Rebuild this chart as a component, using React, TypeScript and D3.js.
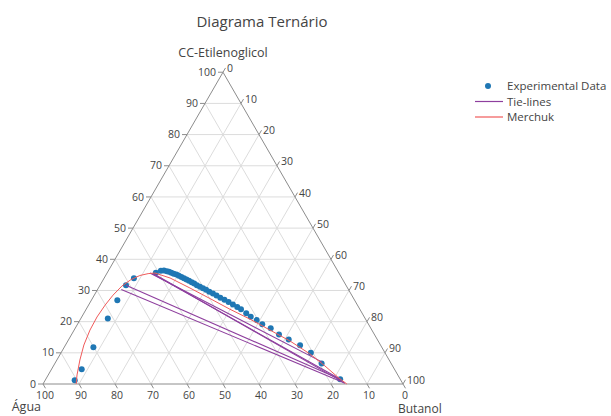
import * as d3 from 'd3';

// Etilenoglicol (a) and Butanol (c) mass %, Água = 100 - a - c
const EXP_A = [1.2, 4.7, 11.8, 21.0, 26.9, 31.7, 33.9, 35.7, 36.3, 36.4, 36.2, 36.0, 35.7, 35.4, 35.1, 34.7,
  34.3, 33.9, 33.5, 33.1, 32.6, 32.2, 31.7, 31.2, 30.7, 30.2, 29.6, 29.0, 28.4, 27.7, 27.0, 26.3, 25.5, 24.7,
  24.0, 22.7, 21.6, 20.5, 19.2, 17.9, 15.9, 14.3, 12.4, 10.0, 6.6, 1.5];
const EXP_C = [8.2, 8.4, 8.1, 7.5, 7.2, 7.2, 8.3, 13.5, 14.6, 15.4, 16.3, 17.0, 17.8, 18.6, 19.5, 20.4,
  21.3, 22.2, 23.1, 24.0, 25.0, 25.9, 26.9, 28.0, 29.1, 30.2, 31.4, 32.7, 34.0, 35.4, 36.9, 38.4, 40.0, 41.6,
  43.0, 45.1, 46.9, 49.1, 51.3, 54.3, 57.6, 61.1, 65.2, 69.4, 74.1, 81.8];

const TIE_A1 = [31.7, 30.3, 35.6, 35.4, 35.3];
const TIE_C1 = [7.2, 6.6, 11.9, 12.6, 13.2];
const TIE_A2 = [1.5, 0.3, 7.1, 1.6, 0.2];
const TIE_C2 = [81.8, 83.6, 73.9, 81.7, 83.8];

const MERCHUK_A = [0, 2.9, 7.7, 12.5, 17.3, 21.5, 25.3, 28.5, 31.4, 33.5, 34.8, 35.4, 35.6, 34.0, 30.8, 27.4,
  24.0, 20.8, 17.3, 13.8, 9.6, 5.8, 2.2, 0];
const MERCHUK_C = [9.2, 8.0, 6.4, 5.1, 4.4, 4.25, 4.6, 5.2, 6.2, 7.7, 9.5, 11.5, 13.3, 18.3, 25.4, 32.7,
  39.9, 47.1, 54.4, 61.7, 69.4, 75.4, 80.8, 84.4];

const TICKS = [0, 10, 20, 30, 40, 50, 60, 70, 80, 90, 100];
const LEGEND = ['Experimental Data', 'Tie-lines', 'Merchuk'];

const LEFT = 43;
const RIGHT = 403;
const BOTTOM = 384;
const APEX_Y = BOTTOM - (RIGHT - LEFT) * Math.sqrt(3) / 2;
const FONT = '"Open Sans", Arial, sans-serif';
const TEXT = '#444';
const BLUE = '#1f77b4';
const PURPLE = '#8e3f9e';
const RED = '#f05a5a';

const xScale = d3.scaleLinear().domain([0, 100]).range([LEFT, RIGHT]);
const yScale = d3.scaleLinear().domain([0, 100]).range([BOTTOM, APEX_Y]);
const proj = (a: number, c: number): [number, number] => [xScale(c + a / 2), yScale(a)];

export default function App() {
  const line = d3.line<[number, number]>();
  const merchuk = line(MERCHUK_A.map((a, i) => proj(a, MERCHUK_C[i]))) || '';

  const grid: string[] = [];
  TICKS.slice(1, -1).forEach((k) => {
    grid.push(line([proj(k, 0), proj(k, 100 - k)]) || '');
    grid.push(line([proj(100 - k, 0), proj(0, 100 - k)]) || '');
    grid.push(line([proj(0, k), proj(100 - k, k)]) || '');
  });
  const edge = line([proj(0, 0), proj(100, 0), proj(0, 100), proj(0, 0)]) + 'Z';

  return (
    <svg width={611} height={416} style={{ position: 'absolute', left: 0, top: 0, background: '#fff' }}
      fontFamily={FONT}>
      <text x={262} y={27} textAnchor="middle" fontSize={15} fill={TEXT}>Diagrama Ternário</text>

      {grid.map((d, i) => <path key={i} d={d} stroke="#dcdcdc" strokeWidth={1} fill="none" />)}
      <path d={edge} stroke="#8c8c8c" strokeWidth={1} fill="none" />

      {/* a axis (left) */}
      {TICKS.map((t) => {
        const [x, y] = proj(t, 0);
        return (
          <g key={'a' + t}>
            <line x1={x} y1={y} x2={x - 5} y2={y} stroke="#8c8c8c" />
            <text x={x - 7} y={y} dy="0.35em" textAnchor="end" fontSize={10.5} fill={TEXT}>{t}</text>
          </g>
        );
      })}
      {/* b axis (bottom) */}
      {TICKS.map((t) => {
        const [x, y] = proj(0, 100 - t);
        return (
          <g key={'b' + t}>
            <line x1={x} y1={y} x2={x + 2.5} y2={y + 4.3} stroke="#8c8c8c" />
            <text x={x + 2} y={y + 14.5} textAnchor="middle" fontSize={10.5} fill={TEXT}>{t}</text>
          </g>
        );
      })}
      {/* c axis (right) */}
      {TICKS.map((t) => {
        const [x, y] = proj(100 - t, t);
        return (
          <g key={'c' + t}>
            <line x1={x} y1={y} x2={x + 2.5} y2={y - 4.3} stroke="#8c8c8c" />
            <text x={x + 4} y={y - 4} dy="0.35em" textAnchor="start" fontSize={10.5} fill={TEXT}>{t}</text>
          </g>
        );
      })}

      <text x={proj(100, 0)[0]} y={APEX_Y - 15} textAnchor="middle" fontSize={12.5} fill={TEXT}>CC-Etilenoglicol</text>
      <text x={LEFT - 2} y={411} textAnchor="end" fontSize={12.5} fill={TEXT}>Água</text>
      <text x={RIGHT - 5} y={412.5} textAnchor="start" fontSize={12} fill={TEXT}>Butanol</text>

      {EXP_A.map((a, i) => {
        const [x, y] = proj(a, EXP_C[i]);
        return <circle key={'p' + i} cx={x} cy={y} r={3} fill={BLUE} />;
      })}

      {TIE_A1.map((a, i) => (
        <path key={'t' + i} d={line([proj(a, TIE_C1[i]), proj(TIE_A2[i], TIE_C2[i])]) || ''}
          stroke={PURPLE} strokeWidth={1.1} fill="none" />
      ))}

      <path d={merchuk} stroke={RED} strokeWidth={1} fill="none" />

      {/* legend */}
      <g fontSize={11.5} fill={TEXT}>
        <circle cx={488} cy={86} r={3} fill={BLUE} />
        <text x={507} y={86} dy="0.35em">{LEGEND[0]}</text>
        <line x1={475} x2={503} y1={101.5} y2={101.5} stroke={PURPLE} strokeWidth={1.2} />
        <text x={507} y={101.5} dy="0.35em">{LEGEND[1]}</text>
        <line x1={475} x2={503} y1={117} y2={117} stroke={RED} strokeWidth={1.2} />
        <text x={507} y={117} dy="0.35em">{LEGEND[2]}</text>
      </g>
    </svg>
  );
}
